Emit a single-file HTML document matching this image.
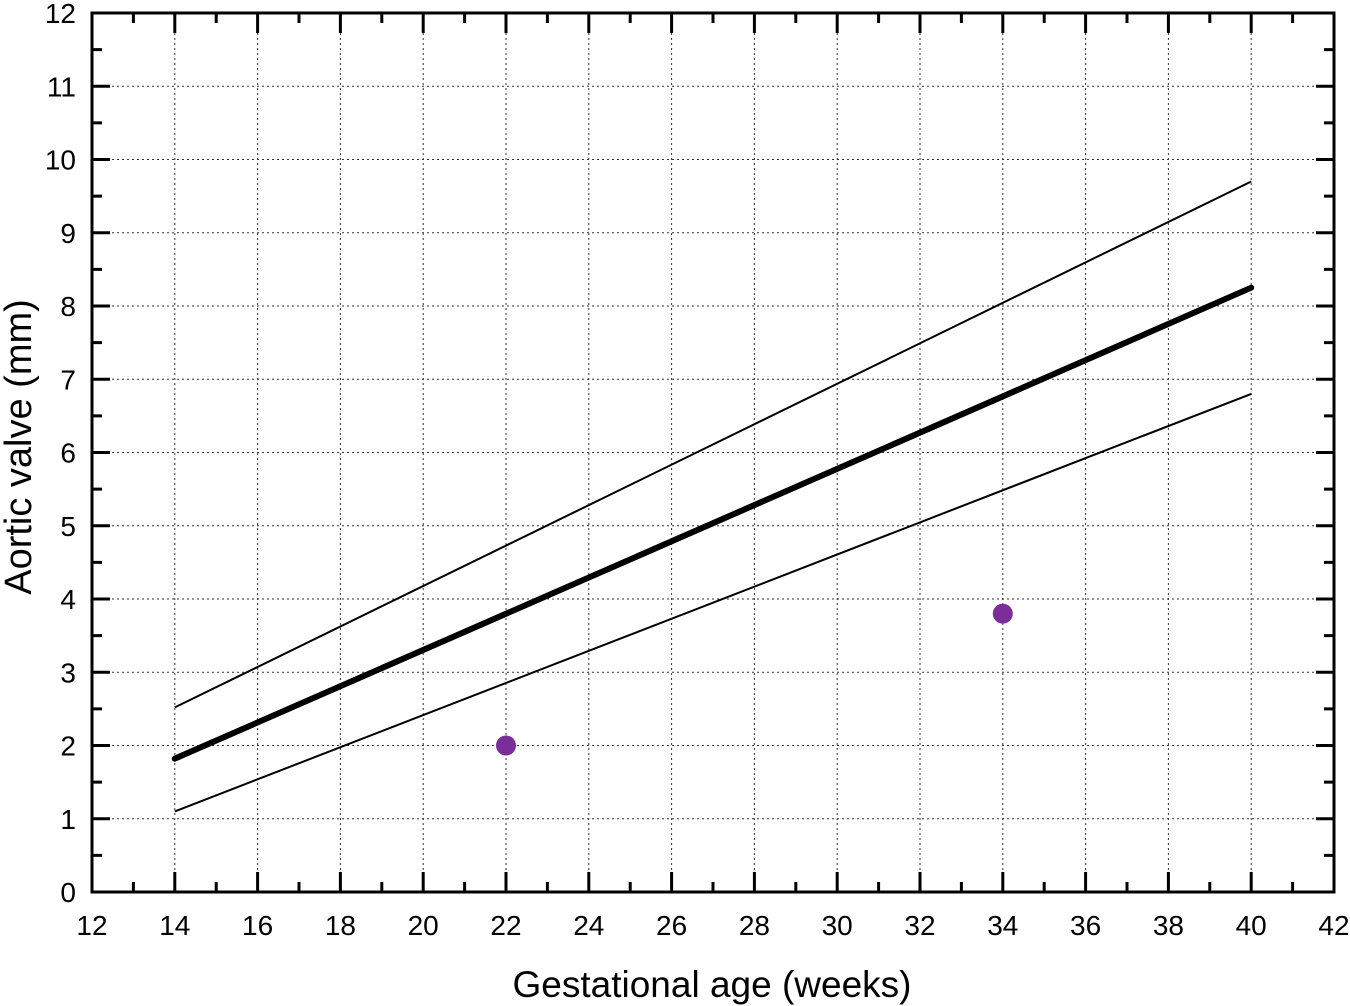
<!DOCTYPE html>
<html><head><style>body{margin:0;background:#fff}svg{display:block}</style></head><body>
<svg width="1350" height="1006" xmlns="http://www.w3.org/2000/svg" font-family="Liberation Sans, Arial, sans-serif">
<g id="grid" stroke="#333" stroke-width="1" stroke-dasharray="2,3">
</g>
<script>
var s='http://www.w3.org/2000/svg',svg=document.querySelector('svg'),g=document.getElementById('grid');
function X(v){return 92+(v-12)*41.4}function Y(v){return 892-v*73.25}
function el(t,a,p){var e=document.createElementNS(s,t);for(var k in a)e.setAttribute(k,a[k]);(p||svg).appendChild(e);return e}
for(var v=14;v<42;v+=2)el('line',{x1:X(v),x2:X(v),y1:13,y2:892},g);
for(var v=1;v<12;v++)el('line',{x1:92,x2:1334,y1:Y(v),y2:Y(v)},g);
for(var v=12;v<=42;v++){var L=v%2==0?20:10;el('line',{x1:X(v),x2:X(v),y1:892,y2:892-L,stroke:'#000','stroke-width':3});el('line',{x1:X(v),x2:X(v),y1:13,y2:13+L,stroke:'#000','stroke-width':3});
if(v%2==0){var t=el('text',{x:X(v),y:935,'text-anchor':'middle','font-size':28});t.textContent=v;}}
for(var v=0;v<=12;v+=0.5){var L=v%1==0?18:10;el('line',{y1:Y(v),y2:Y(v),x1:92,x2:92+L,stroke:'#000','stroke-width':3});el('line',{y1:Y(v),y2:Y(v),x1:1334,x2:1334-L,stroke:'#000','stroke-width':3});
if(v%1==0){var t=el('text',{x:76,y:Y(v)+10,'text-anchor':'end','font-size':28});t.textContent=v;}}
el('rect',{x:92,y:13,width:1242,height:879,fill:'none',stroke:'#000','stroke-width':3});
el('line',{x1:X(14),y1:Y(2.52),x2:X(40),y2:Y(9.7),stroke:'#000','stroke-width':2});
el('line',{x1:X(14),y1:Y(1.1),x2:X(40),y2:Y(6.8),stroke:'#000','stroke-width':2});
el('line',{x1:X(14),y1:Y(1.82),x2:X(40),y2:Y(8.25),stroke:'#000','stroke-width':6,'stroke-linecap':'round'});
el('circle',{cx:X(22),cy:Y(2.0),r:10,fill:'#7b2d98'});
el('circle',{cx:X(34),cy:Y(3.8),r:10,fill:'#7b2d98'});
var t=el('text',{x:712,y:997,'text-anchor':'middle','font-size':37});t.textContent='Gestational age (weeks)';
t=el('text',{x:31,y:447,'text-anchor':'middle','font-size':38,transform:'rotate(-90 31 447)'});t.textContent='Aortic valve  (mm)';
</script>
</svg>
</body></html>
